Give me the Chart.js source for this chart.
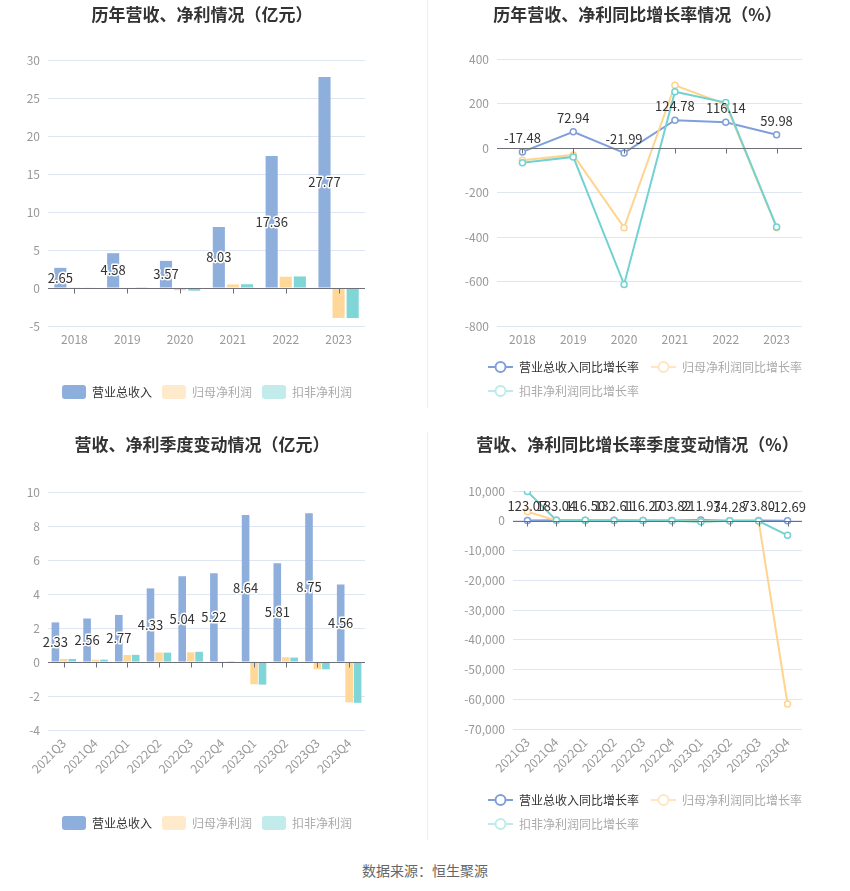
<!DOCTYPE html>
<html lang="zh-CN">
<head>
<meta charset="UTF-8">
<title>营收、净利情况</title>
<script src="https://cdn.jsdelivr.net/npm/chart.js"></script>
<style>
  body { margin: 0; background: #fff; font-family: "Noto Sans CJK SC", sans-serif; }
  .panel { position: absolute; }
  .divider { position: absolute; left: 427px; width: 1px; background: #eeeeee; }
  .source { position: absolute; top: 860px; left: 0; width: 850px; text-align: center; font-size: 14px; color: #666; }
</style>
</head>
<body>
<div class="divider" style="top:0;height:408px"></div>
<div class="divider" style="top:432px;height:408px"></div>
<canvas id="yearBar" class="panel" style="left:0;top:0" width="425" height="409"></canvas>
<canvas id="yearLine" class="panel" style="left:425px;top:0" width="425" height="407"></canvas>
<canvas id="quarterBar" class="panel" style="left:0;top:430px" width="425" height="410"></canvas>
<canvas id="quarterLine" class="panel" style="left:425px;top:430px" width="425" height="410"></canvas>
<div class="source">数据来源：恒生聚源</div>

<script>
// 年度数据（亿元）
const years = ['2018', '2019', '2020', '2021', '2022', '2023'];
const yearRevenue = [2.65, 4.58, 3.57, 8.03, 17.36, 27.77];
const yearNetProfit = [0.10, 0.05, -0.30, 0.47, 1.48, -3.94];
const yearDeductProfit = [0.08, 0.03, -0.35, 0.50, 1.52, -3.96];

// 年度同比增长率（%）
const yearRevenueGrowth = [-17.48, 72.94, -21.99, 124.78, 116.14, 59.98];
const yearNetGrowth = [-55, -31, -358, 282, 196, -358];
const yearDeductGrowth = [-66, -40, -613, 253, 204, -355];

// 季度数据（亿元）
const quarters = ['2021Q3', '2021Q4', '2022Q1', '2022Q2', '2022Q3', '2022Q4', '2023Q1', '2023Q2', '2023Q3', '2023Q4'];
const quarterRevenue = [2.33, 2.56, 2.77, 4.33, 5.04, 5.22, 8.64, 5.81, 8.75, 4.56];
const quarterNetProfit = [0.18, 0.14, 0.41, 0.56, 0.57, 0.02, -1.31, 0.28, -0.43, -2.37];
const quarterDeductProfit = [0.18, 0.14, 0.42, 0.55, 0.60, 0.05, -1.33, 0.26, -0.43, -2.40];

// 季度同比增长率（%）
const quarterRevenueGrowth = [123.07, 183.04, 116.50, 132.61, 116.27, 103.82, 211.97, 34.28, 73.80, -12.69];
const quarterNetGrowth = [3000, 120, 150, 90, 60, 20, -250, 40, -100, -61600];
const quarterDeductGrowth = [9800, 150, 160, 80, 70, 30, -350, 30, -80, -4900];

const barNames = ['营业总收入', '归母净利润', '扣非净利润'];
const lineNames = ['营业总收入同比增长率', '归母净利润同比增长率', '扣非净利润同比增长率'];

const barColors = ['#8eaedc', '#ffd899', '#80d5d6'];
const barLegendColors = ['#8eaedc', '#ffebcc', '#c2ebeb'];
const lineColors = ['#7f9fdb', '#ffd48f', '#72d2d2'];
const lineLegendColors = ['#7f9fdb', '#ffe6c2', '#bfeaea'];
const legendTextColors = ['#333', '#aaa', '#aaa'];

Chart.defaults.font.family = '"Noto Sans CJK SC", sans-serif';
Chart.defaults.animation = false;

// 零线和零线上的刻度
const zeroTicks = {
  id: 'zeroTicks',
  afterDatasetsDraw(chart) {
    const {ctx, scales, chartArea} = chart;
    const y0 = Math.round(scales.y.getPixelForValue(0)) + 0.5;
    ctx.save();
    ctx.strokeStyle = '#6e7079';
    ctx.lineWidth = 1;
    ctx.beginPath();
    ctx.moveTo(chartArea.left, y0);
    ctx.lineTo(chartArea.right, y0);
    ctx.stroke();
    scales.x.ticks.forEach((t, i) => {
      const px = Math.round(scales.x.getPixelForTick(i)) + 0.5;
      ctx.beginPath();
      ctx.moveTo(px, y0);
      ctx.lineTo(px, y0 + 5);
      ctx.stroke();
    });
    ctx.restore();
  }
};

// 第一组数值标签
const valueLabels = {
  id: 'valueLabels',
  afterDatasetsDraw(chart, args, opts) {
    const ctx = chart.ctx;
    const meta = chart.getDatasetMeta(0);
    const values = chart.data.datasets[0].data;
    ctx.save();
    ctx.font = '13px "Noto Sans CJK SC"';
    ctx.textAlign = 'center';
    ctx.textBaseline = 'middle';
    meta.data.forEach((el, i) => {
      const text = values[i].toFixed(2);
      const y = opts.mode === 'bar' ? (el.y + el.base) / 2 : el.y - 14;
      if (opts.halo) {
        ctx.strokeStyle = '#fff';
        ctx.lineWidth = 3;
        ctx.lineJoin = 'round';
        ctx.strokeText(text, el.x, y);
      }
      ctx.fillStyle = '#333';
      ctx.fillText(text, el.x, y);
    });
    ctx.restore();
  }
};

// 图例水平偏移
const legendShift = {
  id: 'legendShift',
  afterLayout(chart, args, opts) {
    if (chart.legend && opts.dx) {
      chart.legend.left += opts.dx;
      chart.legend.right += opts.dx;
    }
  }
};

function lineIcon(color) {
  const c = document.createElement('canvas');
  c.width = 25;
  c.height = 14;
  const g = c.getContext('2d');
  g.strokeStyle = color;
  g.lineWidth = 2;
  g.beginPath();
  g.moveTo(0, 7);
  g.lineTo(25, 7);
  g.stroke();
  g.fillStyle = '#fff';
  g.beginPath();
  g.arc(12.5, 7, 5, 0, Math.PI * 2);
  g.fill();
  g.stroke();
  return c;
}
const lineIcons = lineLegendColors.map(lineIcon);

function yAxis(min, max, step, width) {
  return {
    min: min,
    max: max,
    ticks: { stepSize: step, color: '#999', padding: 8, font: { size: 12 } },
    grid: { color: '#e0e6f1', drawTicks: false },
    border: { display: false },
    afterFit: s => { s.width = width; }
  };
}

function spacer(width) {
  return {
    position: 'right',
    display: true,
    ticks: { display: false },
    grid: { display: false },
    border: { display: false },
    afterFit: s => { s.width = width; }
  };
}

function xAxis(height, rotate) {
  return {
    offset: true,
    grid: { display: false, drawTicks: false },
    border: { display: false },
    ticks: { color: '#999', padding: 6, font: { size: 12 }, autoSkip: false, maxRotation: rotate, minRotation: rotate },
    afterFit: s => { s.height = height; }
  };
}

function titleOpts(text, bottom) {
  return { display: true, text: text, color: '#333', font: { size: 17, weight: 'bold' }, padding: { top: 4, bottom: bottom } };
}

function barChart(id, labels, series, opts) {
  new Chart(document.getElementById(id), {
    type: 'bar',
    data: {
      labels: labels,
      datasets: series.map((data, i) => ({
        label: barNames[i],
        data: data,
        backgroundColor: barColors[i],
        categoryPercentage: 0.8,
        barPercentage: opts.barPct
      }))
    },
    options: {
      responsive: false,
      locale: 'en-US',
      layout: { padding: { right: 21 } },
      scales: {
        x: xAxis(opts.xHeight, opts.rotate),
        y: yAxis(opts.min, opts.max, opts.step, 48),
        y2: spacer(39)
      },
      plugins: {
        title: titleOpts(opts.title, opts.titlePad),
        tooltip: { enabled: false },
        legend: {
          position: 'bottom',
          labels: {
            boxWidth: 24,
            boxHeight: 14,
            padding: 10,
            useBorderRadius: true,
            borderRadius: 3,
            font: { size: 12 },
            generateLabels: chart => chart.data.datasets.map((ds, i) => ({
              text: ds.label,
              fillStyle: barLegendColors[i],
              strokeStyle: barLegendColors[i],
              lineWidth: 0,
              borderRadius: 3,
              fontColor: legendTextColors[i],
              datasetIndex: i,
              hidden: false
            }))
          }
        },
        valueLabels: { mode: 'bar', halo: true },
        legendShift: { dx: 5 }
      }
    },
    plugins: [zeroTicks, valueLabels, legendShift]
  });
}

function lineChart(id, labels, series, opts) {
  new Chart(document.getElementById(id), {
    type: 'line',
    data: {
      labels: labels,
      datasets: series.map((data, i) => ({
        label: lineNames[i],
        data: data,
        borderColor: lineColors[i],
        backgroundColor: '#fff',
        borderWidth: 2,
        pointRadius: 3,
        pointBorderWidth: 1.5,
        pointBackgroundColor: '#fff',
        tension: 0,
        order: 2 - i
      }))
    },
    options: {
      responsive: false,
      locale: 'en-US',
      scales: {
        x: xAxis(opts.xHeight, opts.rotate),
        y: yAxis(opts.min, opts.max, opts.step, opts.yWidth),
        y2: spacer(48)
      },
      plugins: {
        title: titleOpts(opts.title, opts.titlePad),
        tooltip: { enabled: false },
        legend: {
          position: 'bottom',
          align: 'start',
          labels: {
            usePointStyle: true,
            pointStyleWidth: 25,
            boxHeight: 14,
            padding: 12,
            font: { size: 12 },
            generateLabels: chart => chart.data.datasets.map((ds, i) => ({
              text: ds.label,
              pointStyle: lineIcons[i],
              fillStyle: '#fff',
              strokeStyle: lineLegendColors[i],
              lineWidth: 0,
              fontColor: legendTextColors[i],
              datasetIndex: i,
              hidden: false
            }))
          }
        },
        valueLabels: { mode: 'line', halo: false },
        legendShift: { dx: 51 }
      }
    },
    plugins: [zeroTicks, valueLabels, legendShift]
  });
}

barChart('yearBar', years, [yearRevenue, yearNetProfit, yearDeductProfit], {
  title: '历年营收、净利情况（亿元）', titlePad: 35.6, xHeight: 49, rotate: 0,
  min: -5, max: 30, step: 5, barPct: 0.86
});

lineChart('yearLine', years, [yearRevenueGrowth, yearNetGrowth, yearDeductGrowth], {
  title: '历年营收、净利同比增长率情况（%）', titlePad: 34.6, xHeight: 23, rotate: 0,
  min: -800, max: 400, step: 200, yWidth: 72
});

barChart('quarterBar', quarters, [quarterRevenue, quarterNetProfit, quarterDeductProfit], {
  title: '营收、净利季度变动情况（亿元）', titlePad: 37.6, xHeight: 76, rotate: 45,
  min: -4, max: 10, step: 2, barPct: 0.9
});

lineChart('quarterLine', quarters, [quarterRevenueGrowth, quarterNetGrowth, quarterDeductGrowth], {
  title: '营收、净利同比增长率季度变动情况（%）', titlePad: 36.6, xHeight: 53, rotate: 45,
  min: -70000, max: 10000, step: 10000, yWidth: 88
});
</script>
</body>
</html>
